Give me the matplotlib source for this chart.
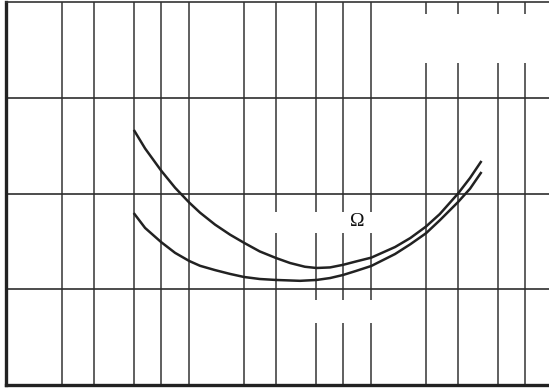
import numpy as np
import matplotlib
matplotlib.use("Agg")
import matplotlib.pyplot as plt
from matplotlib.patches import Rectangle

# grid positions (log x, linear y)
x_grid = [1, 1.5, 2.5, 3.5, 5, 10, 15, 25, 35, 50, 100, 150, 250, 350]
y_grid = [1, 2, 3]

# upper curve
x_upper = [2.5, 2.86, 3.5, 4.18, 5, 5.73, 6.93, 8.38, 10, 12.2, 15, 17.9, 21.6,
           25, 29.7, 35, 41.2, 50, 67.6, 82, 100, 119, 150, 174.5, 200]
y_upper = [2.653, 2.470, 2.240, 2.060, 1.905, 1.800, 1.675, 1.570, 1.485, 1.395,
           1.326, 1.274, 1.235, 1.222, 1.228, 1.255, 1.290, 1.330, 1.441, 1.535,
           1.655, 1.785, 2.000, 2.162, 2.329]

# lower curve
x_lower = [2.5, 2.86, 3.5, 4.18, 5, 5.73, 6.93, 8.38, 10, 12.2, 15, 20.3, 25,
           29.7, 35, 41.2, 50, 67.6, 82, 100, 119, 150, 174.5, 200]
y_lower = [1.786, 1.640, 1.493, 1.380, 1.295, 1.245, 1.200, 1.160, 1.128, 1.107,
           1.097, 1.088, 1.097, 1.117, 1.149, 1.191, 1.243, 1.368, 1.470, 1.585,
           1.720, 1.911, 2.050, 2.214]

INK = "#222222"

fig = plt.figure(figsize=(5.49, 3.89), dpi=100, facecolor="white")
ax = fig.add_axes([6 / 549, 4 / 389, 543 / 549, 383 / 389])
ax.set_xscale("log")
ax.set_xlim(0.492, 474)
ax.set_ylim(0, 4)

ax.set_xticks(x_grid)
ax.set_xticks([], minor=True)
ax.set_yticks(y_grid)
ax.tick_params(length=0, labelbottom=False, labelleft=False, which="both")
ax.grid(axis="x", color="#444444", linewidth=1.2, zorder=0.5)
ax.grid(axis="y", color="#2e2e2e", linewidth=1.2, zorder=0.5)
ax.set_axisbelow(True)

for side in ("left", "bottom"):
    ax.spines[side].set_linewidth(2.4)
    ax.spines[side].set_color(INK)
ax.spines["top"].set_linewidth(1.2)
ax.spines["top"].set_color("#333333")
ax.spines["right"].set_visible(False)

# blanked areas where the original labels were removed
for (x0, y0, w, h) in [(0.685, 0.841, 0.32, 0.128),
                       (0.449, 0.397, 0.236, 0.055),
                       (0.523, 0.162, 0.162, 0.060)]:
    ax.add_patch(Rectangle((x0, y0), w, h, transform=ax.transAxes,
                           facecolor="white", edgecolor="none", zorder=1))

ax.plot(x_upper, y_upper, color=INK, linewidth=1.8, zorder=3,
        solid_joinstyle="round")
ax.plot(x_lower, y_lower, color=INK, linewidth=1.8, zorder=3,
        solid_joinstyle="round")

ax.text(0.646, 0.426, "Ω", transform=ax.transAxes, ha="center", va="center",
        fontsize=14, family="Liberation Serif", color="#111111", zorder=4)

fig.savefig("out.png", dpi=100, facecolor="white")
